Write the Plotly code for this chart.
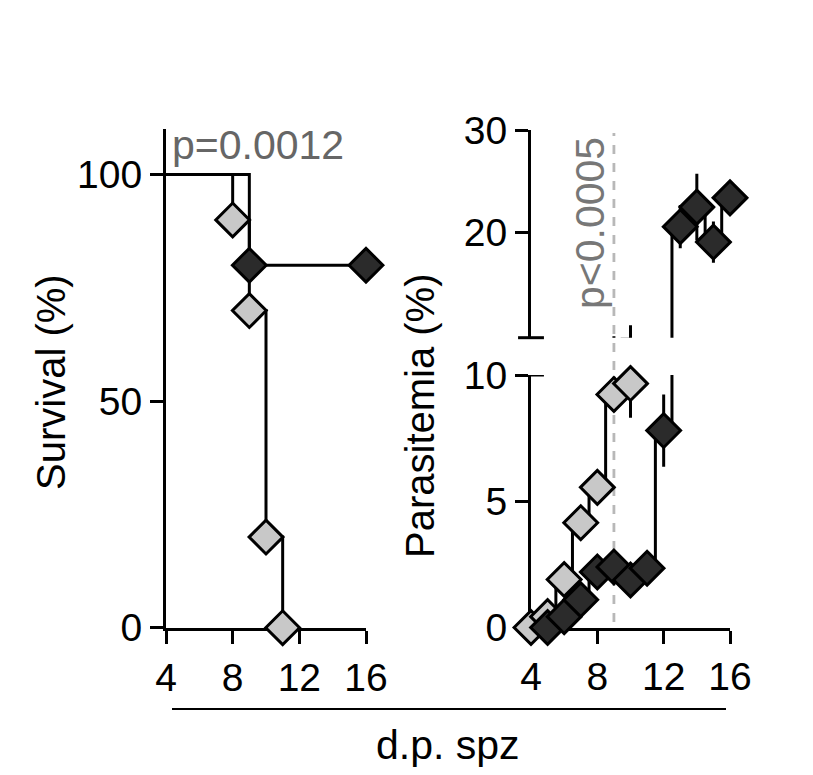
import plotly.graph_objects as go

# survival (Kaplan-Meier style steps)
survDaysGray = [4, 8, 9, 10, 11]
survGray = [100, 90, 70, 20, 0]
survDaysDark = [4, 9, 16]
survDark = [100, 80, 80]

# parasitemia
paraDaysGray = [4, 5, 6, 7, 8, 9, 10]
paraGray = [0, 0.43, 1.9, 4.15, 5.55, 9.23, 9.66]
paraGrayErr = [0, 0, 0, 0, 0, 0.7, 1.35]
paraDaysDark = [5, 6, 7, 8, 9, 10, 11, 12, 13, 14, 15, 16]
paraDark = [0, 0.43, 1.1, 2.2, 2.4, 1.88, 2.35, 7.8, 20.6, 22.5, 19.1, 23.4]
paraDarkErr = [0, 0, 0, 0, 0, 0, 0, 1.43, 2.1, 3.25, 2.0, 0.5]

xTicks = [4, 8, 12, 16]
breakLow = 10

W, H = 813, 775
off = 8  # page margin around the plot div
fontFamily = "Liberation Sans, Arial, sans-serif"
grayFill = '#c8c8c8'
darkFill = '#2b2b2b'
lw = 3
markerSize = 26


def px(x):
    return (x - off) / W


def py(y):
    return (H - (y - off)) / H


fig = go.Figure()

# left panel
for days, vals in [(survDaysGray, survGray), (survDaysDark, survDark)]:
    fig.add_trace(go.Scatter(x=days, y=vals, mode='lines', line=dict(color='black', width=lw, shape='hv'),
                             xaxis='x', yaxis='y', hoverinfo='skip'))
for days, vals, fill in [(survDaysGray, survGray, grayFill), (survDaysDark, survDark, darkFill)]:
    fig.add_trace(go.Scatter(x=days[1:], y=vals[1:], mode='markers', cliponaxis=False,
                             marker=dict(symbol='diamond', size=markerSize, color=fill,
                                         line=dict(color='black', width=lw)),
                             xaxis='x', yaxis='y'))

# right panel, drawn on both halves of the broken axis
for ya in ['y2', 'y3']:
    for days, vals in [(paraDaysGray, paraGray), (paraDaysDark, paraDark)]:
        fig.add_trace(go.Scatter(x=days, y=vals, mode='lines', line=dict(color='black', width=lw, shape='hvh'),
                                 xaxis='x2', yaxis=ya, hoverinfo='skip'))
    for days, vals, err in [(paraDaysGray, paraGray, paraGrayErr), (paraDaysDark, paraDark, paraDarkErr)]:
        # error bars as clipped line segments
        ex, ey = [], []
        for d, v, e in zip(days, vals, err):
            if e > 0:
                ex += [d, d, None]
                ey += [v - e, v + e, None]
        fig.add_trace(go.Scatter(x=ex, y=ey, mode='lines', line=dict(color='black', width=lw),
                                 xaxis='x2', yaxis=ya, hoverinfo='skip'))

for days, vals, fill in [(paraDaysGray, paraGray, grayFill), (paraDaysDark, paraDark, darkFill)]:
    low = [(d, v) for d, v in zip(days, vals) if v <= breakLow]
    high = [(d, v) for d, v in zip(days, vals) if v > breakLow]
    for pts, ya in [(low, 'y2'), (high, 'y3')]:
        if not pts:
            continue
        fig.add_trace(go.Scatter(x=[p[0] for p in pts], y=[p[1] for p in pts], mode='markers',
                                 cliponaxis=False,
                                 marker=dict(symbol='diamond', size=markerSize, color=fill,
                                             line=dict(color='black', width=lw)),
                                 xaxis='x2', yaxis=ya))

axisStyle = dict(showline=True, linecolor='black', linewidth=lw, ticks='outside', ticklen=13,
                 tickwidth=lw, tickcolor='black', showgrid=False, zeroline=False, automargin=False,
                 layer='below traces', tickfont=dict(size=39, color='black', family=fontFamily))

fig.update_layout(
    template='none',
    width=W, height=H, autosize=False,
    margin=dict(l=0, r=0, t=0, b=0, pad=0, autoexpand=False),
    plot_bgcolor='white', paper_bgcolor='white',
    showlegend=False,
    font=dict(family=fontFamily, color='black'),
    xaxis=dict(domain=[px(166), px(366)], range=[4, 16], tickvals=xTicks, anchor='y', **axisStyle),
    yaxis=dict(domain=[py(627.7), py(129.3)], range=[0, 110], tickvals=[0, 50, 100], anchor='x', **axisStyle),
    xaxis2=dict(domain=[px(531), px(730)], range=[4, 16], tickvals=xTicks, anchor='y2', **axisStyle),
    yaxis2=dict(domain=[py(627.5), py(375)], range=[0, 10], tickvals=[0, 5, 10], anchor='x2', **axisStyle),
    yaxis3=dict(domain=[py(337.7), py(130)], range=[9.8, 30], tickvals=[20, 30], anchor='x2', **axisStyle),
)

shapes = [
    # dashed significance line
    dict(type='line', xref='x2', x0=9, x1=9, yref='paper', y0=py(622), y1=py(133), layer='below',
         line=dict(color='#b8b8b8', width=2.8, dash='dash')),
    # caps at the axis break
    dict(type='line', xref='x2 domain', x0=0, x1=0.065, yref='y2', y0=10, y1=10,
         line=dict(color='black', width=lw)),
    dict(type='line', xref='x2 domain', x0=-0.065, x1=0.065, yref='y3 domain', y0=0, y1=0,
         line=dict(color='black', width=lw)),
    # shared x label line
    dict(type='line', xref='paper', x0=px(172), x1=px(726), yref='paper', y0=py(709), y1=py(709),
         line=dict(color='black', width=2)),
]
fig.update_layout(shapes=shapes)

annStyle = dict(xref='paper', yref='paper', showarrow=False)
fig.add_annotation(text='p=0.0012', x=px(170), y=py(145), xanchor='left', yanchor='middle',
                   font=dict(size=41, color='#666666', family=fontFamily), **annStyle)
fig.add_annotation(text='p<0.0005', x=px(590), y=py(223), textangle=-90, xanchor='center', yanchor='middle',
                   font=dict(size=41, color='#777777', family=fontFamily), **annStyle)
fig.add_annotation(text='Survival (%)', x=px(51), y=py(382), textangle=-90, xanchor='center', yanchor='middle',
                   font=dict(size=40, color='black', family=fontFamily), **annStyle)
fig.add_annotation(text='Parasitemia (%)', x=px(420), y=py(416), textangle=-90, xanchor='center', yanchor='middle',
                   font=dict(size=40, color='black', family=fontFamily), **annStyle)
fig.add_annotation(text='d.p. spz', x=px(448), y=py(745), xanchor='center', yanchor='middle',
                   font=dict(size=41, color='black', family=fontFamily), **annStyle)

fig.write_html("out.html")
